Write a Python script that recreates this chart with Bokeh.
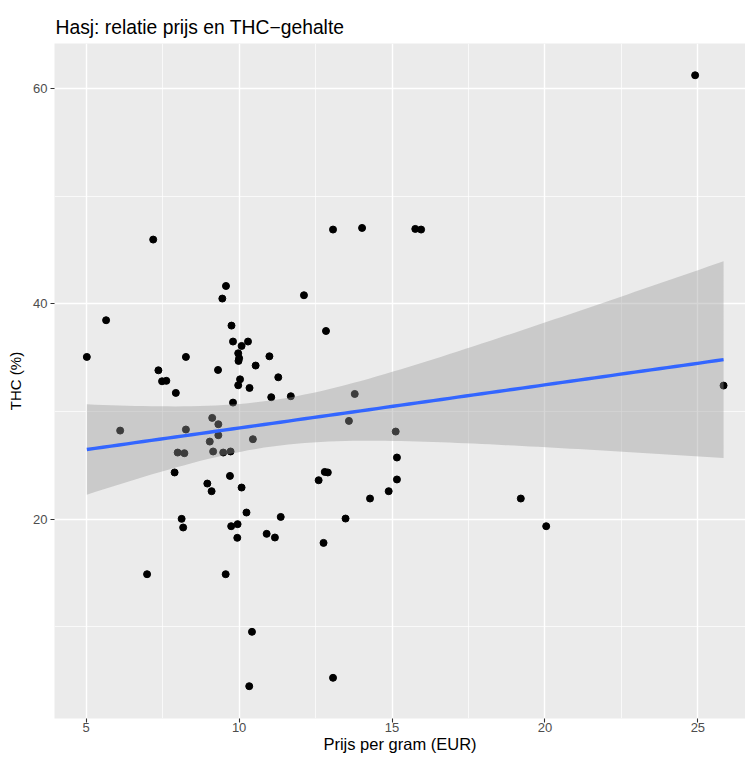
import numpy as np
from bokeh.plotting import figure
from bokeh.models import Range1d, FixedTicker, ColumnDataSource
from bokeh.embed import file_html
from bokeh.resources import INLINE

# ---- data ----
prijs = [7.19, 9.57, 9.45, 5.65, 5.02, 9.75, 9.80, 10.08, 10.29, 9.97,
         10.00, 9.98, 10.99, 8.26, 7.36, 9.31, 10.54, 11.28, 7.48, 7.62,
         10.03, 9.97, 10.34, 7.93, 9.80, 11.05, 11.69, 13.07, 14.02, 15.76,
         15.95, 12.12, 12.84, 13.78, 13.59, 15.12, 9.12, 9.32, 9.32, 10.45,
         9.04, 6.11, 8.26, 7.99, 8.21, 9.15, 9.48, 9.72, 7.89, 9.70,
         8.96, 9.10, 10.08, 10.24, 11.36, 8.12, 8.17, 9.74, 9.95, 9.94,
         10.90, 11.17, 6.99, 9.56, 10.42, 10.33, 15.16, 12.80, 12.90, 12.60,
         15.16, 14.89, 14.28, 13.48, 12.76, 13.07, 25.84, 19.21, 20.04, 24.91]
thc = [45.97, 41.66, 40.49, 38.48, 35.07, 37.98, 36.50, 36.09, 36.50, 35.41,
       34.95, 34.70, 35.13, 35.07, 33.83, 33.86, 34.27, 33.18, 32.81, 32.85,
       32.99, 32.44, 32.19, 31.73, 30.83, 31.33, 31.42, 46.90, 47.05, 46.96,
       46.90, 40.80, 37.48, 31.63, 29.13, 28.14, 29.41, 28.82, 27.80, 27.43,
       27.21, 28.23, 28.33, 26.19, 26.13, 26.29, 26.19, 26.29, 24.34, 24.02,
       23.31, 22.60, 22.94, 20.62, 20.21, 20.03, 19.23, 19.35, 19.54, 18.27,
       18.64, 18.30, 14.89, 14.89, 9.54, 4.49, 25.73, 24.39, 24.34, 23.62,
       23.69, 22.60, 21.92, 20.06, 17.80, 5.27, 32.41, 21.92, 19.35, 61.23]

x_ticks = [5, 10, 15, 20, 25]
x_minor = [7.5, 12.5, 17.5, 22.5]
y_ticks = [20, 40, 60]
y_minor = [10, 30, 50]

title_text = "Hasj: relatie prijs en THC\u2212gehalte"
x_title = "Prijs per gram (EUR)"
y_title = "THC (%)"

# ---- linear model with 95% confidence band (as geom_smooth(method="lm")) ----
xa = np.array(prijs)
ya = np.array(thc)
n = len(xa)
b1, b0 = np.polyfit(xa, ya, 1)
xs = np.linspace(xa.min(), xa.max(), 80)
fit = b0 + b1 * xs
resid = ya - (b0 + b1 * xa)
s = np.sqrt(np.sum(resid ** 2) / (n - 2))
sxx = np.sum((xa - xa.mean()) ** 2)
se = s * np.sqrt(1.0 / n + (xs - xa.mean()) ** 2 / sxx)
tval = 1.9908
band = ColumnDataSource(dict(x=xs, fit=fit, lo=fit - tval * se, hi=fit + tval * se))
pts = ColumnDataSource(dict(x=prijs, y=thc))

FONT = "Liberation Sans"

p = figure(width=745, height=758, output_backend="svg", toolbar_location=None,
           x_range=Range1d(3.963, 26.557), y_range=Range1d(1.49, 64.18),
           min_border_left=54, min_border_right=0, min_border_top=43,
           min_border_bottom=40)

p.background_fill_color = "#EBEBEB"
p.border_fill_color = "white"
p.outline_line_color = None

p.title.text = title_text
p.title.text_font = FONT
p.title.text_font_size = "19.3px"
p.title.text_font_style = "normal"
p.title.text_color = "black"
p.title.align = "left"
p.title.offset = 1
p.title.standoff = 12

p.xaxis.ticker = FixedTicker(ticks=x_ticks, minor_ticks=x_minor)
p.yaxis.ticker = FixedTicker(ticks=y_ticks, minor_ticks=y_minor)

for ax in (p.xaxis[0], p.yaxis[0]):
    ax.axis_line_color = None
    ax.major_tick_line_color = "#333333"
    ax.major_tick_line_width = 1.1
    ax.major_tick_out = 4
    ax.major_tick_in = 0
    ax.minor_tick_line_color = None
    ax.major_label_text_font = FONT
    ax.major_label_text_font_size = "13px"
    ax.major_label_text_color = "#4D4D4D"
    ax.axis_label_text_font = FONT
    ax.axis_label_text_font_style = "normal"
    ax.axis_label_text_color = "black"

p.xaxis.axis_label = x_title
p.xaxis.axis_label_text_font_size = "16.5px"
p.xaxis.major_label_standoff = 0
p.xaxis.axis_label_standoff = 0

p.yaxis.axis_label = y_title
p.yaxis.axis_label_text_font_size = "15px"
p.yaxis.major_label_standoff = 3
p.yaxis.axis_label_standoff = 6

for g in (p.xgrid[0], p.ygrid[0]):
    g.grid_line_color = "white"
    g.grid_line_width = 1.4
    g.minor_grid_line_color = "white"
    g.minor_grid_line_width = 0.7

p.scatter("x", "y", source=pts, size=7, color="black", line_color="black")
p.varea(x="x", y1="lo", y2="hi", source=band, fill_color="#999999", fill_alpha=0.4)
p.line("x", "fit", source=band, line_color="#3366FF", line_width=3.4)

open("out.html", "w").write(file_html(p, INLINE))
